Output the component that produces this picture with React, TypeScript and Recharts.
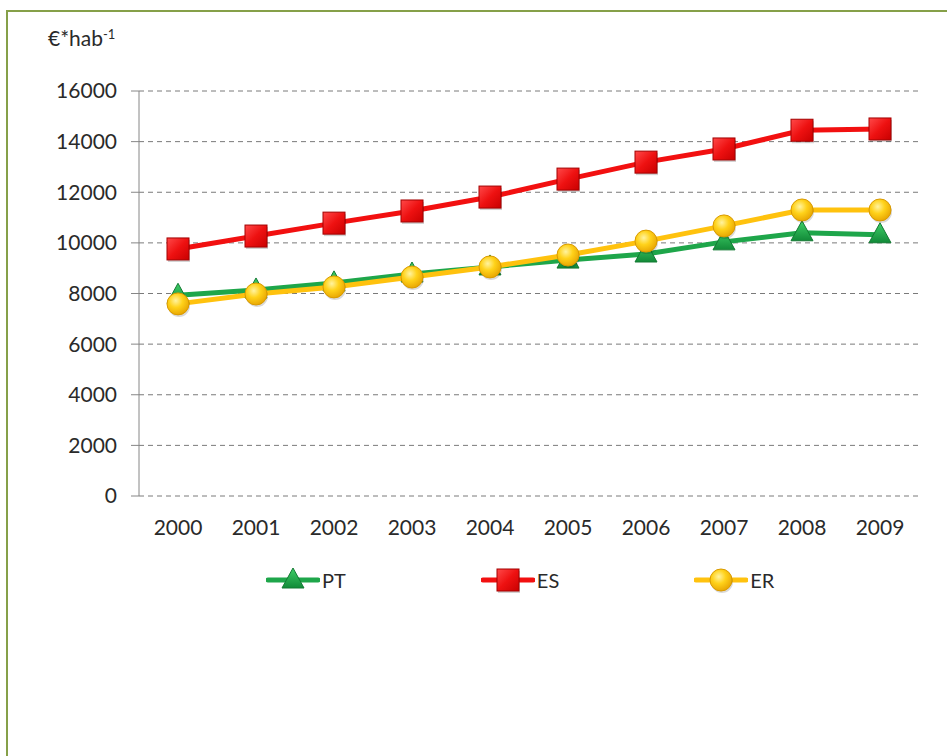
import React from "react";
import { CartesianGrid, Line, LineChart, XAxis, YAxis } from "recharts";

const years = ["2000", "2001", "2002", "2003", "2004", "2005", "2006", "2007", "2008", "2009"];
const ptValues = [7930, 8140, 8420, 8770, 9050, 9320, 9560, 10040, 10400, 10320];
const esValues = [9760, 10270, 10780, 11260, 11810, 12520, 13190, 13710, 14450, 14500];
const erValues = [7590, 7980, 8260, 8650, 9050, 9520, 10070, 10670, 11300, 11300];
const yTicks = [0, 2000, 4000, 6000, 8000, 10000, 12000, 14000, 16000];
const catTicks = [0, 1, 2, 3, 4, 5, 6, 7, 8, 9];
const boundTicks = [-0.5, 0.5, 1.5, 2.5, 3.5, 4.5, 5.5, 6.5, 7.5, 8.5, 9.5];

const data = years.map((year, i) => ({
  x: i,
  year,
  PT: ptValues[i],
  ES: esValues[i],
  ER: erValues[i],
}));

const FONT = "Lato, 'Open Sans', sans-serif";
const GREEN = "#1ea64a";
const RED = "#f21010";
const YELLOW = "#ffc20e";

function Triangle({ cx, cy }: { cx?: number; cy?: number }) {
  if (cx == null || cy == null) return null;
  return (
    <polygon
      points={`${cx},${cy - 12} ${cx - 11},${cy + 8} ${cx + 11},${cy + 8}`}
      fill="url(#gradGreen)"
      stroke="#137a33"
      strokeWidth={1}
    />
  );
}

function Square({ cx, cy }: { cx?: number; cy?: number }) {
  if (cx == null || cy == null) return null;
  return (
    <g>
      <rect x={cx - 10} y={cy - 9} width={22} height={22} fill="rgba(0,0,0,0.18)" />
      <rect x={cx - 11} y={cy - 11} width={22} height={22} fill="url(#gradRed)" stroke="#a30000" strokeWidth={1} />
    </g>
  );
}

function Circle({ cx, cy }: { cx?: number; cy?: number }) {
  if (cx == null || cy == null) return null;
  return (
    <g>
      <circle cx={cx + 1} cy={cy + 2} r={11} fill="rgba(0,0,0,0.15)" />
      <circle cx={cx} cy={cy} r={11} fill="url(#gradYellow)" stroke="#d99a00" strokeWidth={1} />
    </g>
  );
}

const series = [
  { key: "PT", color: GREEN, Dot: Triangle },
  { key: "ES", color: RED, Dot: Square },
  { key: "ER", color: YELLOW, Dot: Circle },
];

function LegendSwatch({ color, Dot }: { color: string; Dot: typeof Triangle }) {
  return (
    <svg width={54} height={26} style={{ display: "block" }}>
      <line x1={2} y1={13} x2={52} y2={13} stroke={color} strokeWidth={5} strokeLinecap="round" />
      <Dot cx={27} cy={13} />
    </svg>
  );
}

export default function App() {
  return (
    <div
      style={{
        position: "absolute",
        left: 0,
        top: 0,
        width: 947,
        height: 756,
        background: "#fff",
        overflow: "hidden",
        fontFamily: FONT,
      }}
    >
      <div
        style={{
          position: "absolute",
          left: 6,
          top: 10,
          width: 1000,
          height: 1000,
          borderLeft: "2px solid #86a049",
          borderTop: "2px solid #86a049",
        }}
      />
      <div
        style={{
          position: "absolute",
          left: 48,
          top: 25,
          fontSize: 21,
          color: "#2a2a2a",
        }}
      >
        €*hab<sup style={{ fontSize: 13, verticalAlign: 7 }}>-1</sup>
      </div>
      <svg width={0} height={0} style={{ position: "absolute" }}>
        <defs>
          <linearGradient id="gradGreen" x1="0" y1="0" x2="0" y2="1">
            <stop offset="0%" stopColor="#3fcf68" />
            <stop offset="100%" stopColor="#128a38" />
          </linearGradient>
          <linearGradient id="gradRed" x1="0" y1="0" x2="1" y2="1">
            <stop offset="0%" stopColor="#ff4a4a" />
            <stop offset="50%" stopColor="#ee1111" />
            <stop offset="100%" stopColor="#c80000" />
          </linearGradient>
          <radialGradient id="gradYellow" cx="0.4" cy="0.35" r="0.7">
            <stop offset="0%" stopColor="#fff3a0" />
            <stop offset="45%" stopColor="#ffd21a" />
            <stop offset="100%" stopColor="#e6a200" />
          </radialGradient>
        </defs>
      </svg>
      <div style={{ position: "absolute", left: 0, top: 0 }}>
        <LineChart width={947} height={756} data={data} margin={{ top: 91, right: 28, left: 0, bottom: 200 }}>
          <CartesianGrid vertical={false} stroke="#7a7a7a" strokeDasharray="5 4" />
          <XAxis
            xAxisId="bound"
            type="number"
            dataKey="x"
            domain={[-0.5, 9.5]}
            ticks={boundTicks}
            tick={false}
            height={0}
            tickSize={8}
            stroke="#868686"
            axisLine={{ stroke: "#868686" }}
            tickLine={{ stroke: "#868686" }}
          />
          <XAxis
            xAxisId="cat"
            type="number"
            dataKey="x"
            domain={[-0.5, 9.5]}
            ticks={catTicks}
            tickFormatter={(i: number) => years[i]}
            axisLine={false}
            tickLine={false}
            height={60}
            tickMargin={18}
            tick={{ fill: "#2a2a2a", fontSize: 21, fontFamily: FONT }}
          />
          <YAxis
            domain={[0, 16000]}
            ticks={yTicks}
            width={139}
            tickSize={8}
            tickMargin={14}
            stroke="#868686"
            tick={{ fill: "#2a2a2a", fontSize: 21, fontFamily: FONT }}
          />
          {series.map((s) => (
            <Line
              key={s.key}
              xAxisId="cat"
              dataKey={s.key}
              stroke={s.color}
              strokeWidth={5}
              dot={<s.Dot />}
              activeDot={false}
              isAnimationActive={false}
            />
          ))}
        </LineChart>
      </div>
      <div
        style={{
          position: "absolute",
          left: 266,
          top: 567,
          display: "flex",
          gap: 135,
          alignItems: "center",
        }}
      >
        {series.map((s) => (
          <div key={s.key} style={{ display: "flex", alignItems: "center", gap: 2 }}>
            <LegendSwatch color={s.color} Dot={s.Dot} />
            <span style={{ fontSize: 20, color: "#2a2a2a" }}>{s.key}</span>
          </div>
        ))}
      </div>
    </div>
  );
}
